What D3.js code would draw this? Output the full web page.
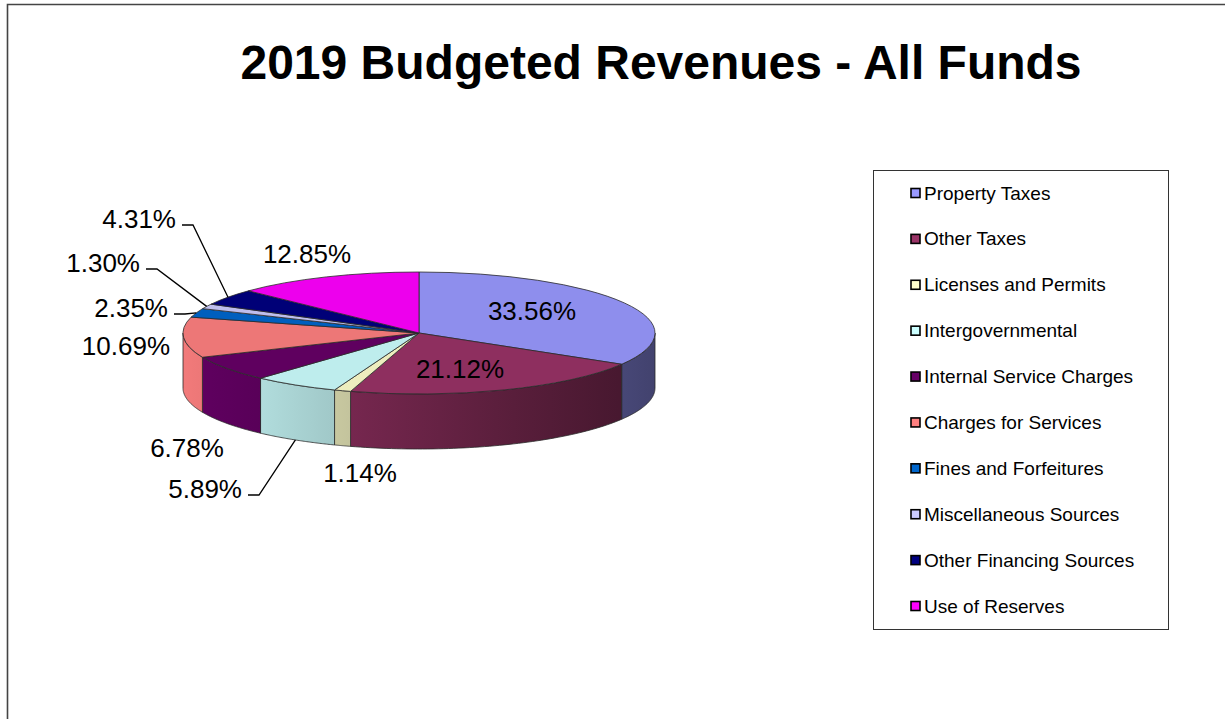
<!DOCTYPE html>
<html>
<head>
<meta charset="utf-8">
<script src="https://cdn.jsdelivr.net/npm/d3@7/dist/d3.min.js"></script>
<style>
  html, body { margin: 0; padding: 0; background: #fff; }
  svg { display: block; font-family: Arial, "Liberation Sans", sans-serif; }
</style>
</head>
<body>
<script>
// Revenue categories, in pie order (clockwise from 12 o'clock)
const categories = [
  "Property Taxes", "Other Taxes", "Licenses and Permits", "Intergovernmental",
  "Internal Service Charges", "Charges for Services", "Fines and Forfeitures",
  "Miscellaneous Sources", "Other Financing Sources", "Use of Reserves"
];
// Share of total budgeted revenue, percent
const shares = [33.56, 21.12, 1.14, 5.89, 6.78, 10.69, 2.35, 1.30, 4.31, 12.85];
// Fill colour per category
const palette = [
  "#9999FF", "#993366", "#FFFFCC", "#CCFFFF", "#660066",
  "#FF8080", "#0066CC", "#CCCCFF", "#000080", "#FF00FF"
];
const title = "2019 Budgeted Revenues - All Funds";

// Where each percentage label sits (text anchor point) and whether it gets a leader line
const labelSpots = [
  { x: 532, y: 320, anchor: "middle" },
  { x: 460, y: 378, anchor: "middle" },
  { x: 360, y: 482, anchor: "middle" },
  { x: 242, y: 498, anchor: "end", leader: true },
  { x: 187, y: 457, anchor: "middle" },
  { x: 170, y: 355, anchor: "end" },
  { x: 168, y: 317, anchor: "end", leader: true },
  { x: 140, y: 272, anchor: "end", leader: true },
  { x: 176, y: 228, anchor: "end", leader: true },
  { x: 307, y: 263, anchor: "middle" }
];

const W = 1225, H = 719;
const cx = 419, cy = 333, rx = 236, ry = 61, depth = 55;

const svg = d3.select("body").append("svg")
  .attr("width", W).attr("height", H);

// Outer chart frame (runs off the right and bottom edges)
svg.append("path")
  .attr("d", `M7.5,${H} V4.5 H${W}`)
  .attr("fill", "none").attr("stroke", "#444").attr("stroke-width", 1.6);

// Title
svg.append("text")
  .attr("x", 661).attr("y", 79)
  .attr("text-anchor", "middle")
  .attr("font-size", 48).attr("font-weight", "bold")
  .attr("fill", "#000")
  .text(title);

// Scale a colour's channels by k
function tone(c, k) {
  const r = d3.rgb(c);
  return d3.rgb(r.r * k, r.g * k, r.b * k).formatHex();
}

const arcs = d3.pie().sort(null).value(d => d)(shares);

// Point on the pie's rim ellipse; angle measured clockwise from 12 o'clock
const rim = (a, dy = 0) => [cx + rx * Math.sin(a), cy - ry * Math.cos(a) + dy];

const defs = svg.append("defs");

// Side walls: only the front half (pi/2 .. 3pi/2) is visible
const wallG = svg.append("g");
const lineGen = d3.line();
arcs.forEach((a, i) => {
  const a0 = Math.max(a.startAngle, Math.PI / 2);
  const a1 = Math.min(a.endAngle, 3 * Math.PI / 2);
  if (a1 <= a0) return;
  const grad = defs.append("linearGradient")
    .attr("id", "wall" + i)
    .attr("gradientUnits", "userSpaceOnUse")
    .attr("x1", cx - rx).attr("x2", cx + rx).attr("y1", 0).attr("y2", 0);
  [[0, 0.95], [0.35, 0.77], [0.7, 0.58], [1, 0.43]].forEach(([o, k]) => {
    grad.append("stop").attr("offset", o).attr("stop-color", tone(palette[i], k));
  });
  const n = 60;
  const top = d3.range(n + 1).map(j => rim(a0 + (a1 - a0) * j / n));
  const bottom = d3.range(n + 1).map(j => rim(a1 - (a1 - a0) * j / n, depth));
  wallG.append("path")
    .attr("d", lineGen(top.concat(bottom)) + "Z")
    .attr("fill", `url(#wall${i})`)
    .attr("stroke", "#2a2a2a").attr("stroke-width", 0.8)
    .attr("stroke-linejoin", "round");
});

// Top faces: circular arcs squashed into the ellipse
const arcGen = d3.arc().innerRadius(0).outerRadius(rx);
svg.append("g")
  .attr("transform", `translate(${cx},${cy}) scale(1,${ry / rx})`)
  .selectAll("path").data(arcs).join("path")
  .attr("d", arcGen)
  .attr("fill", (d, i) => tone(palette[i], 0.93))
  .attr("stroke", "#2a2a2a").attr("stroke-width", 0.8)
  .attr("vector-effect", "non-scaling-stroke")
  .attr("stroke-linejoin", "round");

// Percentage labels and leader lines
const fmt = v => v.toFixed(2) + "%";
const labelG = svg.append("g");
arcs.forEach((a, i) => {
  const s = labelSpots[i];
  labelG.append("text")
    .attr("x", s.x).attr("y", s.y)
    .attr("text-anchor", s.anchor)
    .attr("font-size", 26).attr("fill", "#000")
    .text(fmt(shares[i]));
  if (s.leader) {
    const mid = (a.startAngle + a.endAngle) / 2;
    const end = rim(mid, Math.cos(mid) < 0 ? depth : 0);
    const ly = s.y - 3;
    labelG.append("path")
      .attr("d", lineGen([[s.x + 6, ly], [s.x + 17, ly], end]))
      .attr("fill", "none").attr("stroke", "#000").attr("stroke-width", 1.3);
  }
});

// Legend
const legend = svg.append("g");
legend.append("rect")
  .attr("x", 873.5).attr("y", 170.5).attr("width", 295).attr("height", 459)
  .attr("fill", "#fff").attr("stroke", "#333").attr("stroke-width", 1);
const ly = d3.scalePoint().domain(categories).range([193, 606]);
const items = legend.selectAll("g.item").data(categories).join("g")
  .attr("class", "item")
  .attr("transform", d => `translate(0,${ly(d)})`);
items.append("rect")
  .attr("x", 911).attr("y", -4.5).attr("width", 9).attr("height", 9)
  .attr("fill", (d, i) => palette[i])
  .attr("stroke", "#000").attr("stroke-width", 1.6);
items.append("text")
  .attr("x", 924).attr("y", 6.5)
  .attr("font-size", 19).attr("fill", "#000")
  .text(d => d);
</script>
</body>
</html>
